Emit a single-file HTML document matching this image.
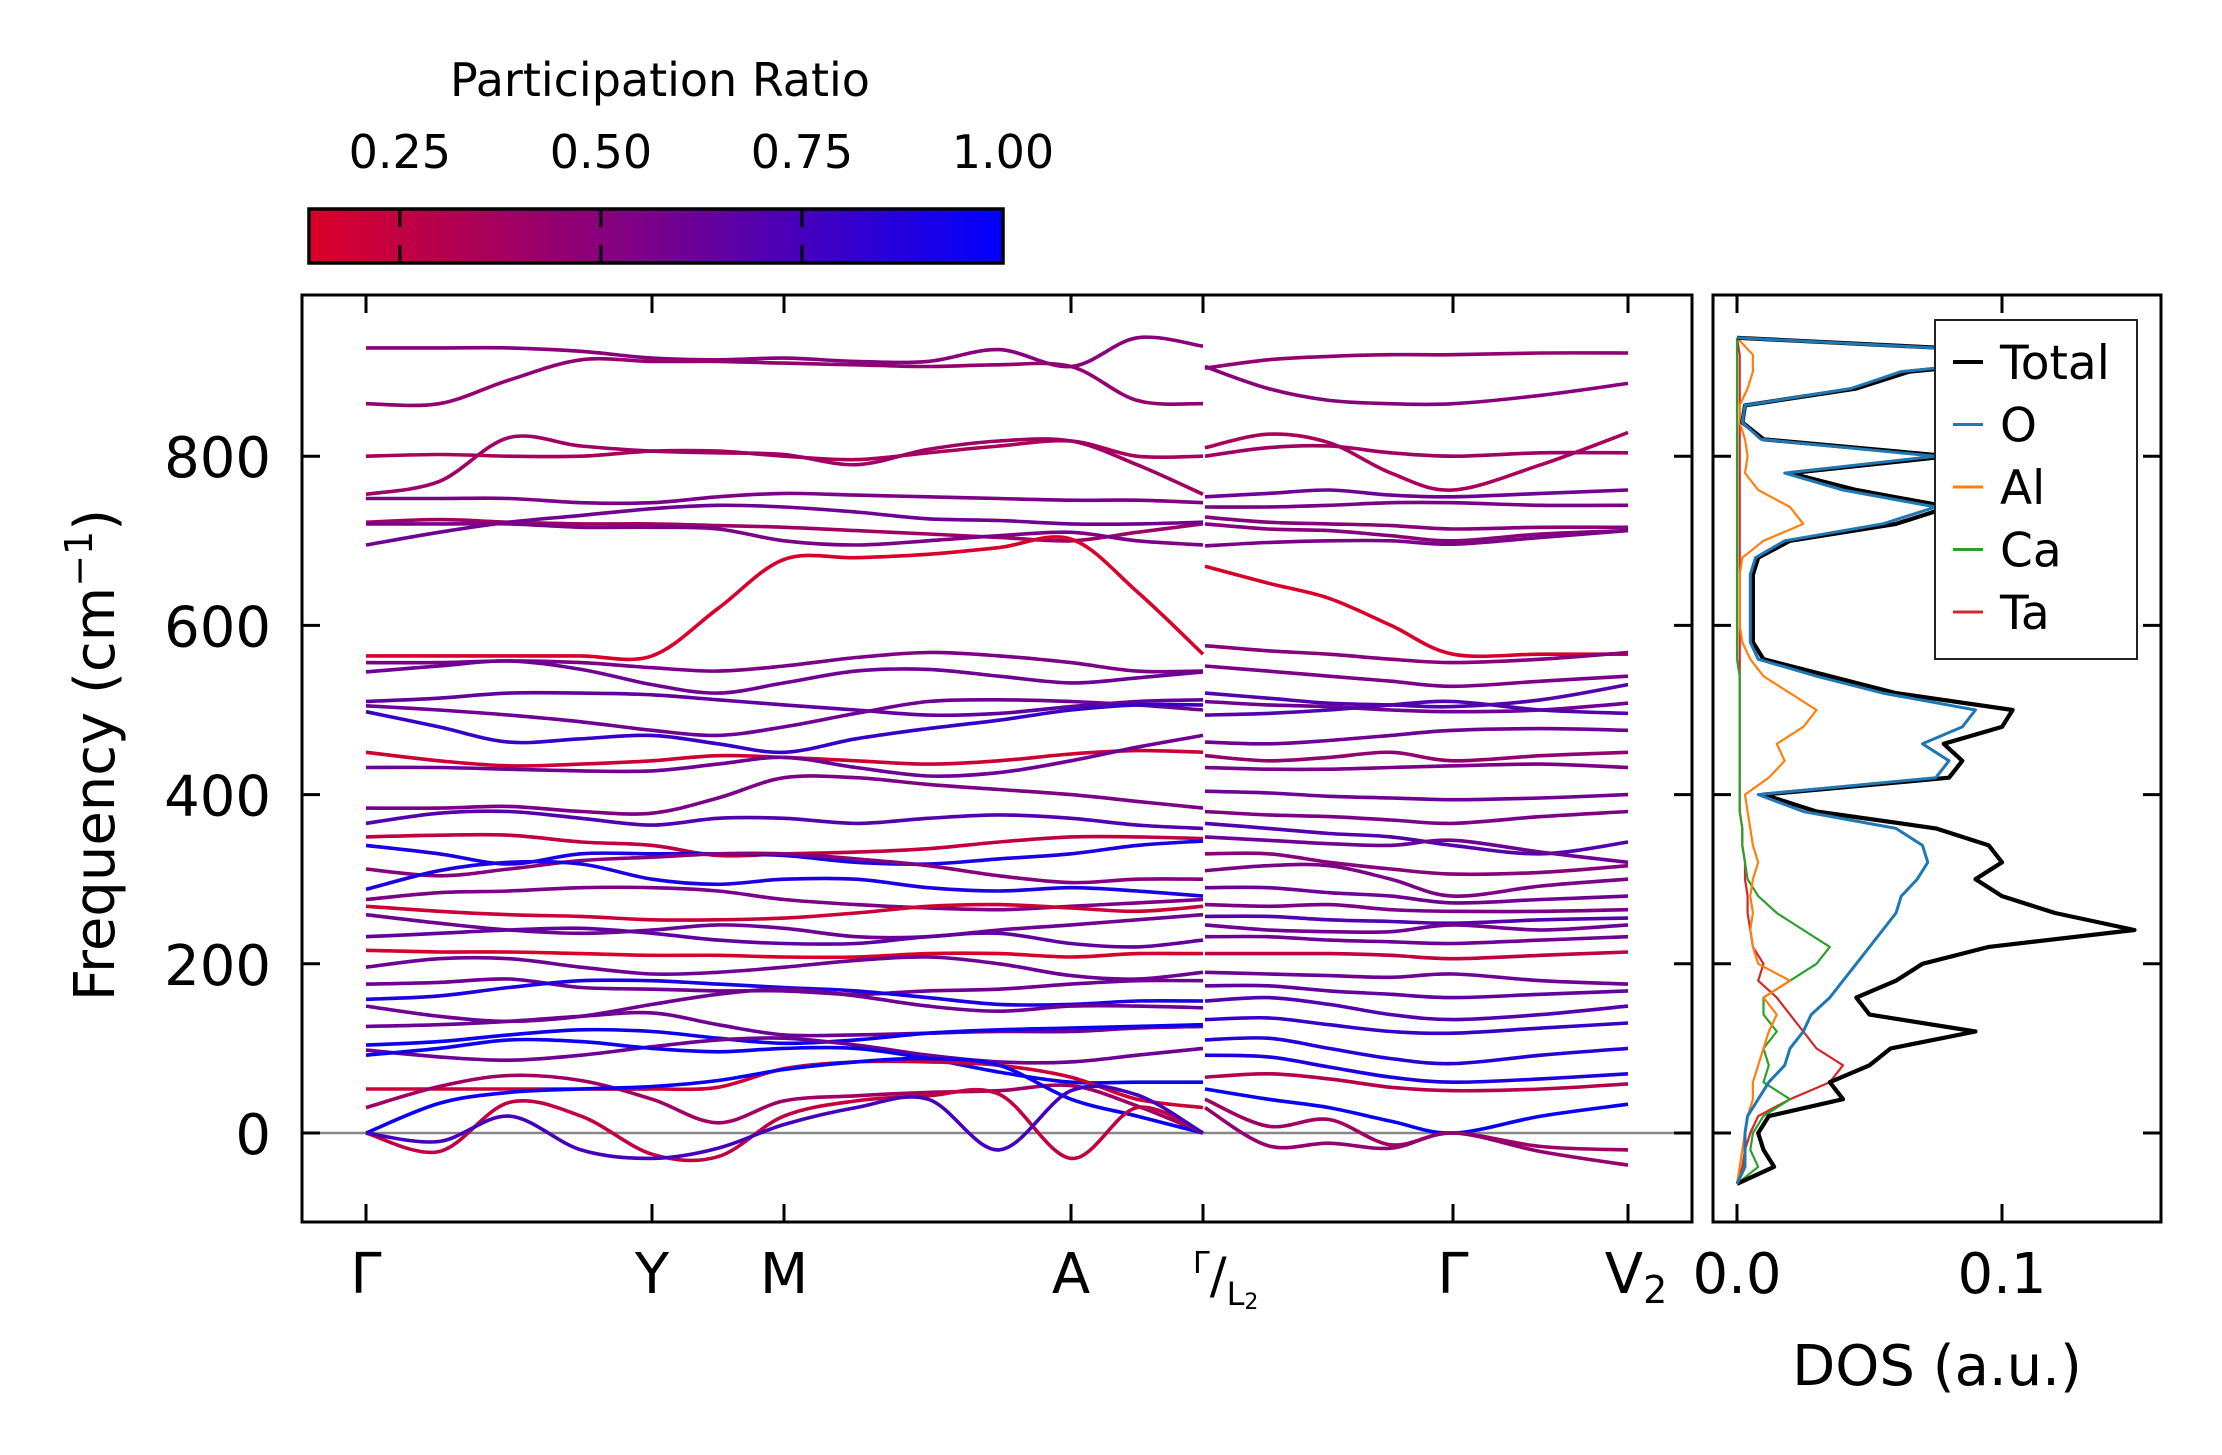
<!DOCTYPE html>
<html><head><meta charset="utf-8"><style>
html,body{margin:0;padding:0;background:#fff;}
svg{display:block;font-family:"DejaVu Sans","Liberation Sans",sans-serif;}
</style></head><body>
<svg id="fig" width="2222" height="1455" viewBox="0 0 2222 1455" xmlns="http://www.w3.org/2000/svg">
<defs>
<linearGradient id="cmap" x1="0" x2="1" y1="0" y2="0">
<stop offset="0" stop-color="rgb(220,0,40)"/>
<stop offset="0.5" stop-color="rgb(120,0,140)"/>
<stop offset="1" stop-color="rgb(0,0,255)"/>
</linearGradient>
<clipPath id="mainClip"><rect x="302" y="295" width="1390" height="927"/></clipPath>
<clipPath id="dosClip"><rect x="1713" y="295" width="448" height="927"/></clipPath>
</defs>
<g id="colorbar">
<text x="660" y="96" font-size="46" text-anchor="middle">Participation Ratio</text>
<rect x="309" y="209" width="694" height="54" fill="url(#cmap)" stroke="#000" stroke-width="3.5"/>
<g id="cbTicks"></g>
</g>
<g id="main"></g>
<g id="dos"></g>
</svg>
<script>
const NS="http://www.w3.org/2000/svg";
// ---------- colorbar data ----------
const cbTickValues=[0.25,0.50,0.75,1.00];
const cbTickLabels=["0.25","0.50","0.75","1.00"];
const prMin=0.137, prMax=1.0;
// ---------- band structure data ----------
const kTickPos=[0,286,418,705,837,1087,1262];
const kTickLabels=["Γ","Y","M","A","Γ/L2","Γ","V2"];
const kLeft=[0,73,143,215,286,352,418,490,562,633,705,771,837];
const kRight=[839,902,963,1025,1087,1175,1262];
const yTicks=[0,200,400,600,800];
const bandsLeft=[
[928,928,928,924,916,914,916,912,912,926,906,940,930],
[862,862,890,914,912,912,910,908,906,908,906,866,862],
[800,802,800,800,806,806,800,796,804,812,818,800,800],
[755,770,822,812,806,804,802,790,808,818,818,790,755],
[750,750,750,745,745,752,756,754,752,750,748,748,745],
[722,725,722,720,720,718,716,712,708,704,700,710,720],
[695,710,722,730,738,742,740,734,726,724,720,720,722],
[564,564,564,564,564,620,678,680,684,692,702,640,566],
[720,720,720,716,716,714,700,695,700,706,710,700,695],
[556,556,558,556,550,546,552,562,568,564,556,546,546],
[545,552,558,548,530,520,532,546,548,540,532,538,545],
[510,514,520,520,518,512,506,500,494,496,504,510,512],
[505,500,494,486,476,470,480,496,510,512,510,506,500],
[498,480,462,466,470,460,450,466,478,488,500,506,506],
[450,440,434,436,440,446,444,440,436,440,448,452,450],
[432,432,430,428,428,436,444,432,422,426,440,456,470],
[384,384,386,380,378,396,420,420,412,406,400,392,384],
[366,378,380,372,364,372,372,366,372,376,372,364,360],
[350,352,352,344,340,328,330,332,336,344,350,350,348],
[340,330,318,330,330,330,328,320,318,324,330,340,345],
[312,304,312,322,326,330,330,324,316,304,296,300,300],
[288,310,320,318,300,294,300,300,290,286,290,286,280],
[276,284,286,290,290,286,276,270,266,264,268,272,276],
[268,262,258,256,252,252,254,260,268,270,266,262,268],
[258,248,240,236,240,246,242,232,232,240,246,252,258],
[232,236,240,242,236,228,224,224,232,236,224,220,228],
[216,214,214,212,210,210,208,208,212,212,208,212,212],
[196,206,206,196,188,190,196,204,208,200,186,182,190],
[176,178,182,172,170,168,168,164,168,170,176,180,180],
[158,162,172,180,180,176,172,168,160,152,152,156,156],
[150,138,132,138,152,164,170,162,150,144,150,150,148],
[126,128,132,138,142,128,116,116,118,120,120,124,126],
[104,108,116,122,120,112,106,110,118,122,124,126,128],
[98,90,86,92,102,110,112,104,92,84,84,92,100],
[92,100,110,108,100,96,100,100,88,72,60,60,60],
[52,52,52,52,52,54,76,84,84,80,66,40,30],
[30,55,68,62,40,12,38,44,48,50,56,32,0],
[0,35,48,52,55,62,75,84,88,80,40,20,0],
[0,-22,36,20,-25,-28,20,38,44,46,-30,30,0],
[0,-10,20,-20,-30,-18,10,30,40,-20,50,45,0]
];
const prLeft=[0.5,0.45,0.35,0.4,0.55,0.4,0.6,0.15,0.55,0.55,0.6,0.65,0.6,0.8,0.2,0.6,0.55,0.7,0.25,0.9,0.5,0.9,0.55,0.2,0.6,0.65,0.15,0.6,0.6,0.9,0.6,0.6,0.95,0.6,0.95,0.2,0.4,0.97,0.25,0.75];
const bandsRight=[
[904,914,918,920,920,922,922],
[906,880,866,862,862,872,886],
[810,826,816,780,760,790,828],
[800,810,812,804,800,804,804],
[752,756,760,754,752,756,760],
[740,740,742,745,745,742,742],
[728,722,720,718,714,716,716],
[720,714,712,706,700,708,712],
[694,698,700,700,696,704,712],
[670,650,632,600,566,566,566],
[576,570,566,560,556,560,568],
[552,546,540,534,528,534,540],
[520,514,508,506,504,512,530],
[510,506,504,500,498,500,508],
[494,496,500,506,510,500,496],
[462,460,464,470,476,478,476],
[446,440,444,450,440,446,450],
[432,430,430,432,434,436,432],
[404,402,398,396,394,396,400],
[380,376,374,370,366,374,380],
[366,360,354,350,340,330,344],
[350,346,342,340,346,332,320],
[330,330,320,312,306,308,316],
[310,316,316,300,280,292,300],
[290,290,284,280,272,276,280],
[270,268,270,264,262,262,264],
[256,256,252,250,248,252,254],
[246,240,238,238,246,240,246],
[232,232,228,226,224,228,232],
[212,212,212,210,206,210,214],
[190,188,186,184,188,180,176],
[174,174,168,164,160,164,168],
[156,160,152,140,134,140,150],
[134,136,128,120,118,124,130],
[110,112,100,88,82,92,100],
[92,90,78,66,60,64,70],
[66,70,64,54,50,52,58],
[52,40,30,14,0,20,34],
[40,8,16,-14,0,-16,-20],
[30,-15,-12,-18,0,-22,-38]
];
const prRight=[0.45,0.5,0.35,0.4,0.6,0.55,0.5,0.5,0.55,0.15,0.5,0.55,0.7,0.6,0.7,0.6,0.45,0.55,0.6,0.55,0.7,0.6,0.5,0.55,0.6,0.55,0.7,0.6,0.6,0.25,0.6,0.65,0.7,0.8,0.85,0.9,0.3,0.97,0.4,0.45];
// ---------- DOS data ----------
const dosFreq=[-60,-40,-20,0,20,40,60,80,100,120,140,160,180,200,220,240,260,280,300,320,340,360,380,400,420,440,460,480,500,520,540,560,580,600,620,640,660,680,700,720,740,760,780,800,820,840,860,880,900,920,940];
const dosTotal=[0,0.014,0.01,0.008,0.012,0.04,0.035,0.05,0.058,0.09,0.05,0.045,0.06,0.07,0.095,0.15,0.12,0.1,0.09,0.1,0.095,0.075,0.03,0.01,0.08,0.085,0.078,0.1,0.104,0.06,0.035,0.01,0.006,0.006,0.006,0.006,0.006,0.008,0.02,0.06,0.08,0.045,0.02,0.08,0.01,0.002,0.003,0.045,0.065,0.13,0];
const dosO=[0,0.003,0.003,0.003,0.004,0.008,0.012,0.018,0.02,0.025,0.028,0.035,0.04,0.045,0.05,0.055,0.06,0.062,0.068,0.072,0.07,0.06,0.025,0.008,0.075,0.08,0.07,0.085,0.09,0.055,0.03,0.008,0.005,0.005,0.005,0.005,0.005,0.007,0.018,0.055,0.075,0.04,0.018,0.075,0.009,0.002,0.003,0.043,0.062,0.125,0];
const dosAl=[0,0.001,0.002,0.003,0.004,0.006,0.006,0.008,0.01,0.012,0.015,0.01,0.02,0.008,0.006,0.005,0.006,0.005,0.006,0.008,0.006,0.005,0.004,0.003,0.012,0.018,0.015,0.025,0.03,0.02,0.01,0.005,0.002,0.001,0.001,0.001,0.001,0.002,0.01,0.025,0.02,0.008,0.003,0.004,0.003,0.001,0.001,0.004,0.006,0.006,0];
const dosCa=[0,0.008,0.005,0.006,0.01,0.02,0.01,0.012,0.01,0.015,0.01,0.01,0.02,0.03,0.035,0.025,0.015,0.008,0.004,0.003,0.002,0.002,0.001,0.001,0.001,0.001,0.001,0.001,0.001,0.001,0.001,0,0,0,0,0,0,0,0,0,0,0,0,0,0,0,0,0,0,0,0];
const dosTa=[0,0.002,0.003,0.005,0.008,0.02,0.035,0.04,0.03,0.025,0.02,0.015,0.008,0.01,0.006,0.005,0.004,0.004,0.003,0.003,0.002,0.002,0.001,0.001,0.001,0.001,0.001,0.001,0.001,0.001,0.001,0.001,0.001,0.001,0.001,0.001,0.001,0.001,0.001,0.001,0.001,0.001,0.001,0.001,0.001,0.001,0.001,0.001,0.001,0.001,0];
const dosXTicks=[0.0,0.1];
const dosXLabels=["0.0","0.1"];
const legendLabels=["Total","O","Al","Ca","Ta"];
const legendColors=["#000000","#1f77b4","#ff7f0e","#2ca02c","#d62728"];

// ---------- scales ----------
const Y0=1133, YS=0.846;
function yScale(f){return Y0-f*YS;}
function xK(k){return 366+k;}
function xDos(v){return 1737+v*2650;}
function cbX(v){return 309+(v-prMin)/(prMax-prMin)*694;}
function prColor(p){
  const t=Math.max(0,Math.min(1,(p-prMin)/(prMax-prMin)));
  let r,g,b;
  if(t<0.5){const u=t/0.5;r=220+(120-220)*u;g=0;b=40+(140-40)*u;}
  else{const u=(t-0.5)/0.5;r=120*(1-u);g=0;b=140+(255-140)*u;}
  return `rgb(${r|0},${g|0},${b|0})`;
}
function el(tag,attrs,parent){const e=document.createElementNS(NS,tag);for(const k in attrs)e.setAttribute(k,attrs[k]);parent.appendChild(e);return e;}
function smoothPath(xs,ys){
  let d=`M${xs[0].toFixed(1)},${ys[0].toFixed(1)}`;
  for(let i=0;i<xs.length-1;i++){
    const x0=xs[i-1]!==undefined?xs[i-1]:xs[i],y0=ys[i-1]!==undefined?ys[i-1]:ys[i];
    const x3=xs[i+2]!==undefined?xs[i+2]:xs[i+1],y3=ys[i+2]!==undefined?ys[i+2]:ys[i+1];
    const c1x=xs[i]+(xs[i+1]-x0)/6,c1y=ys[i]+(ys[i+1]-y0)/6;
    const c2x=xs[i+1]-(x3-xs[i])/6,c2y=ys[i+1]-(y3-ys[i])/6;
    d+=` C${c1x.toFixed(1)},${c1y.toFixed(1)} ${c2x.toFixed(1)},${c2y.toFixed(1)} ${xs[i+1].toFixed(1)},${ys[i+1].toFixed(1)}`;
  }
  return d;
}
function linePath(xs,ys){return xs.map((x,i)=>(i?"L":"M")+x.toFixed(1)+","+ys[i].toFixed(1)).join(" ");}

// colorbar ticks
const cbT=document.getElementById('cbTicks');
cbTickValues.forEach((v,i)=>{
  const x=cbX(v);
  if(v<prMax){
    const t1=el('line',{x1:x,x2:x,y1:209,y2:227,stroke:'#000','stroke-width':3},cbT);
    
    
    const t2=el('line',{x1:x,x2:x,y1:245,y2:263,stroke:'#000','stroke-width':3},cbT);
    
    
  }
  const tx=el('text',{x:x,y:168,'font-size':46,'text-anchor':'middle'},cbT);
  tx.textContent=cbTickLabels[i];
  
  
});

// main axes
const M=document.getElementById('main');
const zl=el('line',{x1:302,x2:1692,y1:yScale(0),y2:yScale(0),stroke:'#888','stroke-width':2.5},M);


const bg=el('g',{'clip-path':'url(#mainClip)'},M);
function drawBands(bands,ks,prs,name){
  bands.forEach((b,i)=>{
    const p=el('path',{d:smoothPath(ks.map(xK),b.map(yScale)),fill:'none',stroke:prColor(prs[i]),'stroke-width':3.6,'stroke-linecap':'butt'},bg);
    
    
  });
}
drawBands(bandsLeft,kLeft,prLeft,'phonon-band-left');
drawBands(bandsRight,kRight,prRight,'phonon-band-right');
const fr=el('rect',{x:302,y:295,width:1390,height:927,fill:'none',stroke:'#000','stroke-width':3},M);


yTicks.forEach(v=>{
  const y=yScale(v);
  const a=el('line',{x1:302,x2:320,y1:y,y2:y,stroke:'#000','stroke-width':3},M);
  
  
  const b=el('line',{x1:1674,x2:1692,y1:y,y2:y,stroke:'#000','stroke-width':3},M);
  
  
  const t=el('text',{x:271,y:y+21,'font-size':56,'text-anchor':'end'},M);
  t.textContent=String(v);
  
  
});
kTickPos.forEach((k,i)=>{
  const x=xK(k);
  const a=el('line',{x1:x,x2:x,y1:295,y2:313,stroke:'#000','stroke-width':3},M);
  
  
  const b=el('line',{x1:x,x2:x,y1:1204,y2:1222,stroke:'#000','stroke-width':3},M);
  
  
  const lab=kTickLabels[i];
  let t;
  if(lab==="Γ/L2"){
    t=el('text',{x:x-10,y:1293,'font-size':56},M);
    const s1=el('tspan',{'font-size':30,dy:-20},t);s1.textContent="Γ";
    const s2=el('tspan',{'font-size':50,dy:20},t);s2.textContent="/";
    const s3=el('tspan',{'font-size':32,dy:12},t);s3.textContent="L";
    const s4=el('tspan',{'font-size':22,dy:4},t);s4.textContent="2";
  } else if(lab==="V2"){
    t=el('text',{x:x+8,y:1293,'font-size':56,'text-anchor':'middle'},M);
    const s1=el('tspan',{},t);s1.textContent="V";
    const s2=el('tspan',{'font-size':38,dy:10},t);s2.textContent="2";
  } else {
    t=el('text',{x:x,y:1293,'font-size':56,'text-anchor':'middle'},M);
    t.textContent=lab;
  }
  
  
});
const yl=el('text',{x:0,y:0,'font-size':56,'text-anchor':'middle',transform:'translate(114,755) rotate(-90)'},M);


const y1=el('tspan',{},yl);y1.textContent="Frequency (cm";
const y2=el('tspan',{'font-size':38,dy:-22},yl);y2.textContent="−1";
const y3=el('tspan',{dy:22},yl);y3.textContent=")";

// DOS
const D=document.getElementById('dos');
const dg=el('g',{'clip-path':'url(#dosClip)'},D);
const series=[[dosTa,"#d62728",2.2,'dos-ta-line'],[dosCa,"#2ca02c",2.2,'dos-ca-line'],[dosAl,"#ff7f0e",2.2,'dos-al-line'],[dosTotal,"#000",4.2,'dos-total-line'],[dosO,"#1f77b4",3,'dos-o-line']];
series.forEach(s=>{
  const p=el('path',{d:linePath(s[0].map(xDos),dosFreq.map(yScale)),fill:'none',stroke:s[1],'stroke-width':s[2],'stroke-linejoin':'round'},dg);
  
  
});
const df=el('rect',{x:1713,y:295,width:448,height:927,fill:'none',stroke:'#000','stroke-width':3},D);


yTicks.forEach(v=>{
  const y=yScale(v);
  const a=el('line',{x1:1713,x2:1731,y1:y,y2:y,stroke:'#000','stroke-width':3},D);
  
  
  const b=el('line',{x1:2143,x2:2161,y1:y,y2:y,stroke:'#000','stroke-width':3},D);
  
  
});
dosXTicks.forEach((v,i)=>{
  const x=xDos(v);
  const a=el('line',{x1:x,x2:x,y1:295,y2:313,stroke:'#000','stroke-width':3},D);
  
  
  const b=el('line',{x1:x,x2:x,y1:1204,y2:1222,stroke:'#000','stroke-width':3},D);
  
  
  const t=el('text',{x:x,y:1293,'font-size':56,'text-anchor':'middle'},D);
  t.textContent=dosXLabels[i];
  
  
});
const dl=el('text',{x:1937,y:1385,'font-size':56,'text-anchor':'middle'},D);
dl.textContent="DOS (a.u.)";


const lg=el('g',{},D);


el('rect',{x:1935,y:320,width:202,height:339,fill:'#fff',stroke:'#222','stroke-width':2},lg);
legendLabels.forEach((lab,i)=>{
  const y=362+i*62.5;
  const ln=el('line',{x1:1953,x2:1983,y1:y,y2:y,stroke:legendColors[i],'stroke-width':i===0?4:3},lg);
  
  
  const t=el('text',{x:2000,y:y+17,'font-size':47},lg);
  t.textContent=lab;
  
  
});
</script>
</body></html>
